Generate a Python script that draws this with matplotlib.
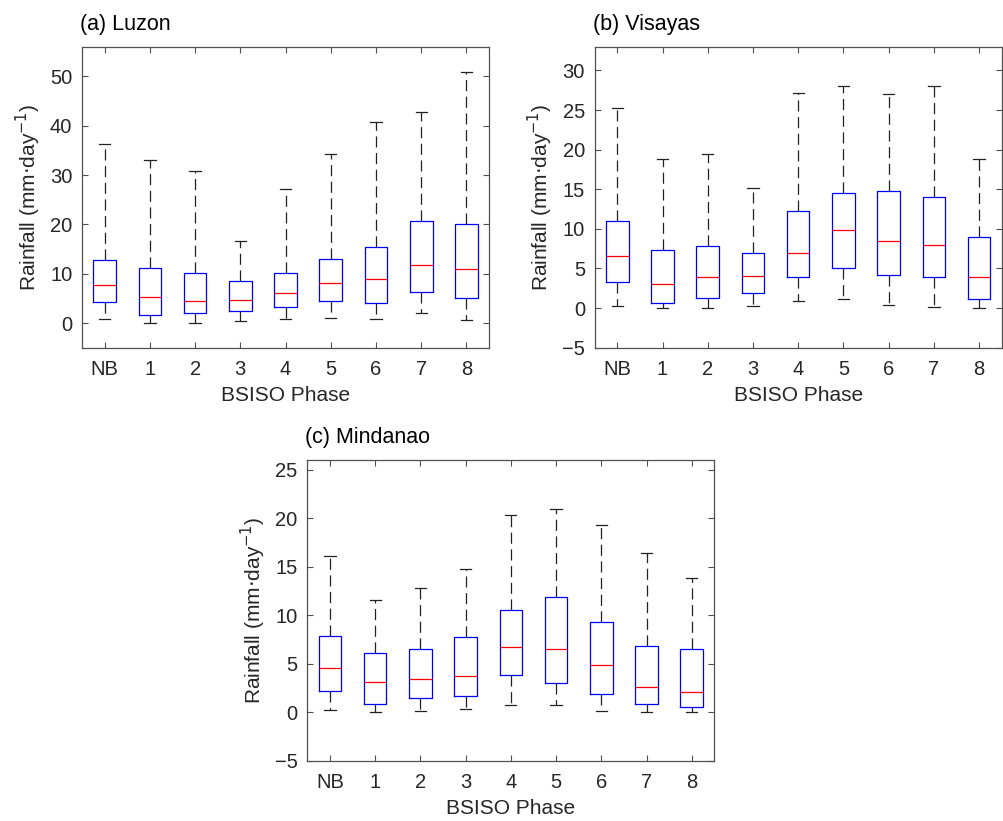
import matplotlib
matplotlib.use("Agg")
import matplotlib.pyplot as plt

plt.rcParams['font.family'] = ['Liberation Sans', 'DejaVu Sans']
plt.rcParams['lines.scale_dashes'] = False

phases = ["NB", "1", "2", "3", "4", "5", "6", "7", "8"]

# Luzon: whisker low, Q1, median, Q3, whisker high
luzon_low = [0.74, 0.07, 0.07, 0.5, 0.9, 1.1, 0.9, 1.95, 0.6]
luzon_q1 = [4.2, 1.55, 1.95, 2.4, 3.2, 4.4, 4.1, 6.2, 5.1]
luzon_med = [7.7, 5.3, 4.4, 4.7, 6.1, 8.1, 9.0, 11.7, 10.9]
luzon_q3 = [12.8, 11.1, 10.2, 8.6, 10.2, 12.9, 15.5, 20.7, 20.1]
luzon_high = [36.2, 33.1, 30.9, 16.6, 27.1, 34.2, 40.8, 42.8, 50.8]

# Visayas
visayas_low = [0.3, 0.0, 0.0, 0.3, 0.93, 1.18, 0.42, 0.2, 0.0]
visayas_q1 = [3.3, 0.68, 1.3, 1.95, 3.94, 5.0, 4.19, 3.9, 1.1]
visayas_med = [6.56, 3.05, 3.98, 4.0, 6.94, 9.86, 8.42, 7.96, 3.94]
visayas_q3 = [11.05, 7.36, 7.8, 6.9, 12.3, 14.5, 14.8, 13.97, 9.0]
visayas_high = [25.2, 18.8, 19.5, 15.2, 27.2, 28.1, 27.0, 28.1, 18.8]

# Mindanao
mindanao_low = [0.27, 0.03, 0.17, 0.34, 0.72, 0.72, 0.1, 0.0, 0.0]
mindanao_q1 = [2.16, 0.86, 1.44, 1.65, 3.8, 3.05, 1.89, 0.89, 0.58]
mindanao_med = [4.53, 3.12, 3.46, 3.77, 6.76, 6.55, 4.87, 2.64, 2.06]
mindanao_q3 = [7.82, 6.1, 6.48, 7.75, 10.56, 11.87, 9.29, 6.82, 6.48]
mindanao_high = [16.1, 11.6, 12.8, 14.8, 20.3, 20.9, 19.3, 16.4, 13.85]

panels = [
    dict(title="(a) Luzon", data=(luzon_low, luzon_q1, luzon_med, luzon_q3, luzon_high),
         ylim=(-5, 56), yticks=[0, 10, 20, 30, 40, 50],
         rect=[0.0817, 0.5765, 0.4054, 0.3666]),
    dict(title="(b) Visayas", data=(visayas_low, visayas_q1, visayas_med, visayas_q3, visayas_high),
         ylim=(-5, 33), yticks=[-5, 0, 5, 10, 15, 20, 25, 30],
         rect=[0.5923, 0.5765, 0.4054, 0.3666]),
    dict(title="(c) Mindanao", data=(mindanao_low, mindanao_q1, mindanao_med, mindanao_q3, mindanao_high),
         ylim=(-5, 26), yticks=[-5, 0, 5, 10, 15, 20, 25],
         rect=[0.3061, 0.0735, 0.4054, 0.3663]),
]

fig = plt.figure(figsize=(10.04, 8.21), dpi=100)
text_col = '#262626'
frame_col = '#505050'

for p in panels:
    ax = fig.add_axes(p['rect'])
    low, q1, med, q3, high = p['data']
    stats = []
    for i in range(len(phases)):
        stats.append(dict(whislo=low[i], q1=q1[i], med=med[i], q3=q3[i], whishi=high[i],
                          fliers=[], label=phases[i]))
    ax.bxp(stats, positions=range(1, len(phases) + 1), widths=0.5, showfliers=False,
           boxprops=dict(color='blue', linewidth=0.9),
           medianprops=dict(color='red', linewidth=0.9),
           whiskerprops=dict(color='#222222', linewidth=0.9, linestyle=(0, (8, 4))),
           capprops=dict(color='#222222', linewidth=0.9),
           capwidths=0.25)
    ax.set_xlim(0.5, len(phases) + 0.5)
    ax.set_ylim(*p['ylim'])
    ax.set_yticks(p['yticks'])
    ax.set_xticks(range(1, len(phases) + 1))
    ax.set_xticklabels(phases)
    ax.tick_params(direction='in', top=True, right=True, length=4, width=0.8,
                   color=frame_col, labelcolor=text_col, labelsize=14.5)
    ax.tick_params(axis='x', pad=9)
    ax.tick_params(axis='y', pad=7)
    for s in ax.spines.values():
        s.set_color(frame_col)
        s.set_linewidth(0.9)
    ax.set_xlabel("BSISO Phase", fontsize=15, color=text_col, labelpad=5)
    ax.set_ylabel("Rainfall (mm$\\cdot$day$^{-1}$)", fontsize=15, color=text_col, labelpad=5)
    ax.set_title(p['title'], loc='left', fontsize=15.5, color='black', pad=12, x=-0.005)

fig.savefig("out.png", dpi=100)
